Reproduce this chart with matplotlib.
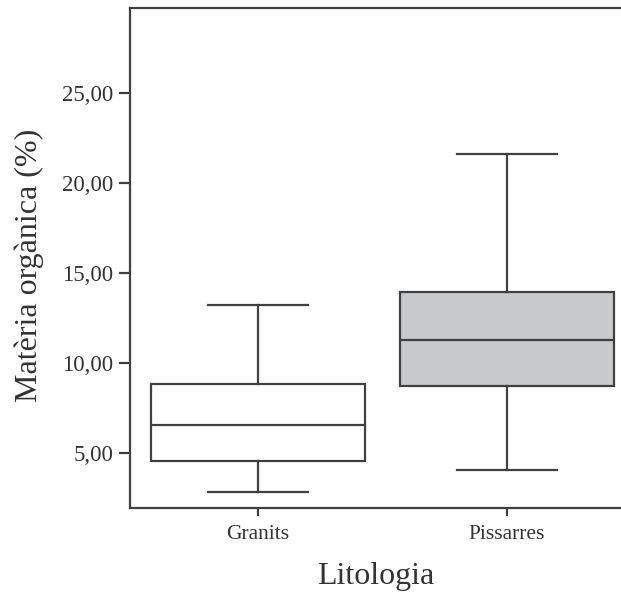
import matplotlib
matplotlib.use("Agg")
import matplotlib.pyplot as plt

categories = ["Granits", "Pissarres"]
whislo = [2.83, 4.06]
q1 = [4.56, 8.72]
med = [6.56, 11.28]
q3 = [8.83, 13.94]
whishi = [13.22, 21.61]
yticks = [5, 10, 15, 20, 25]
ytick_labels = ["5,00", "10,00", "15,00", "20,00", "25,00"]
fills = ["#ffffff", "#c8c9cb"]

plt.rcParams['font.family'] = ['Liberation Serif', 'DejaVu Serif']
lc = "#404040"
tc = "#333333"

fig = plt.figure(figsize=(6.21, 5.93), dpi=100)
ax = fig.add_axes([130/621, 85/593, 1 - 130/621, (508-8)/593])

stats = []
for i, c in enumerate(categories):
    stats.append(dict(label=c, whislo=whislo[i], q1=q1[i], med=med[i], q3=q3[i], whishi=whishi[i], fliers=[]))

bp = ax.bxp(stats, positions=[0, 1], widths=0.86, capwidths=0.405, patch_artist=True, showfliers=False,
            boxprops=dict(edgecolor=lc, linewidth=1.6),
            medianprops=dict(color=lc, linewidth=1.6),
            whiskerprops=dict(color=lc, linewidth=1.6),
            capprops=dict(color=lc, linewidth=1.6))
for p, f in zip(bp['boxes'], fills):
    p.set_facecolor(f)

ax.set_xlim(-0.514, 1.458)
ax.set_ylim(1.944, 29.72)
ax.set_yticks(yticks)
ax.set_yticklabels(ytick_labels)
ax.set_xticks([0, 1])
ax.set_xticklabels(categories)
ax.spines['right'].set_visible(False)
for s in ['left', 'bottom', 'top']:
    ax.spines[s].set_color(lc)
    ax.spines[s].set_linewidth(1.6)
ax.tick_params(axis='both', colors=lc, width=1.6, labelcolor=tc)
ax.tick_params(axis='y', labelsize=16.5, pad=4, length=8)
ax.tick_params(axis='x', labelsize=15.5, pad=6, length=6)
ax.set_xlabel("Litologia", fontsize=23, color=tc, labelpad=13)
ax.set_ylabel("Matèria orgànica (%)", fontsize=23, color=tc)
ax.yaxis.set_label_coords(-0.176, 0.486)

fig.savefig("out.png", dpi=100)
